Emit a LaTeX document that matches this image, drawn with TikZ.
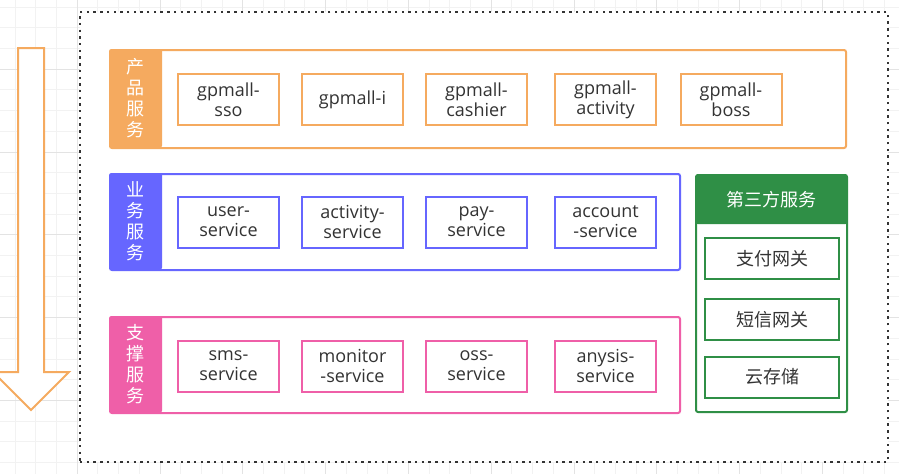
\documentclass[tikz,border=0pt]{standalone}
\usepackage{fontspec}
\setmainfont{Open Sans}
\newfontfamily\cjk{Noto Sans CJK SC}
\usepackage{xcolor}
\usepackage{tikz}
\usetikzlibrary{positioning}

\definecolor{prodcol}{HTML}{F5AA5F}
\definecolor{bizcol}{HTML}{6666FF}
\definecolor{suppcol}{HTML}{EF5FA8}
\definecolor{thirdcol}{HTML}{2F8F46}
\definecolor{txtcol}{HTML}{333333}

\begin{document}
\begin{tikzpicture}[
    x=1pt, y=-1pt,
    gridminor/.style = {draw=gray!10, line width=0.8pt},
    gridmajor/.style = {draw=gray!22, line width=0.8pt},
    layer/.style  = {rectangle, draw, line width=2pt,
                     rounded corners=2pt, inner sep=0pt},
    tag/.style    = {rectangle, rounded corners=2pt,
                     text=white, align=center, inner sep=0pt,
                     minimum width=53pt,
                     font=\cjk\fontsize{18}{21}\selectfont},
    svc/.style    = {rectangle, draw, line width=2pt, fill=white,
                     minimum width=101pt, minimum height=51pt,
                     align=center, inner sep=0pt, text=txtcol,
                     font=\fontsize{18}{20}\selectfont},
    gate/.style   = {rectangle, draw=thirdcol, line width=2pt,
                     fill=white, minimum width=134pt,
                     minimum height=41pt, inner sep=0pt,
                     text=txtcol, font=\cjk\fontsize{18}{20}\selectfont}
]
\clip (0,0) rectangle (899,474);

%% Background grid
\fill[white] (0,0) rectangle (899,474);
\foreach \i in {-1,...,43}
    \draw[gridminor] ({15+20.7*\i},0) -- ({15+20.7*\i},474);
\foreach \i in {-1,...,23}
    \draw[gridminor] (0,{7+20.7*\i}) -- (899,{7+20.7*\i});
\foreach \i in {-1,...,11}
    \draw[gridmajor] ({77.1+82.8*\i},0) -- ({77.1+82.8*\i},474);
\foreach \i in {-1,...,6}
    \draw[gridmajor] (0,{69.1+82.8*\i}) -- (899,{69.1+82.8*\i});

%% Frame
\node[draw=txtcol, fill=white, line width=2.4pt,
      dash pattern=on 2.4pt off 4.3pt,
      minimum width=808pt, minimum height=450pt,
      inner sep=0pt] (frame) at (484,237) {};

%% Flow arrow
\draw[prodcol, line width=2pt, fill=white, line join=miter]
    (18,48) -- (44,48) -- (44,372) -- (69,372) -- (31,410)
    -- (-7,372) -- (18,372) -- cycle;

%% Product layer
\node[layer, draw=prodcol, minimum width=736pt,
      minimum height=98pt] (prod) at (478,99) {};
\node[tag, fill=prodcol, minimum height=98pt,
      anchor=north west] (prodtag) at (prod.north west)
    {产\\品\\服\\务};
\node[svc, draw=prodcol] (sso)      at (228.5,99.5) {gpmall-\\sso};
\node[svc, draw=prodcol] (gi)       at (352.5,99.5) {gpmall-i};
\node[svc, draw=prodcol] (cashier)  at (476.5,99.5) {gpmall-\\cashier};
\node[svc, draw=prodcol] (activity) at (605.5,99.5) {gpmall-\\activity};
\node[svc, draw=prodcol] (boss)     at (731,99.5)   {gpmall-\\boss};

%% Business layer
\node[layer, draw=bizcol, minimum width=570pt,
      minimum height=96pt] (biz) at (395,222) {};
\node[tag, fill=bizcol, minimum height=96pt,
      anchor=north west] (biztag) at (biz.north west)
    {业\\务\\服\\务};
\node[svc, draw=bizcol] (user)    at (228.5,222) {user-\\service};
\node[svc, draw=bizcol] (actsvc)  at (352.5,222) {activity-\\service};
\node[svc, draw=bizcol] (pay)     at (476.5,222) {pay-\\service};
\node[svc, draw=bizcol] (account) at (605.5,222) {account\\-service};

%% Support layer
\node[layer, draw=suppcol, minimum width=570pt,
      minimum height=96pt] (supp) at (395,365) {};
\node[tag, fill=suppcol, minimum height=96pt,
      anchor=north west] (supptag) at (supp.north west)
    {支\\撑\\服\\务};
\node[svc, draw=suppcol] (sms)     at (228.5,366) {sms-\\service};
\node[svc, draw=suppcol] (monitor) at (352.5,366) {monitor\\-service};
\node[svc, draw=suppcol] (oss)     at (476.5,366) {oss-\\service};
\node[svc, draw=suppcol] (anysis)  at (605.5,366) {anysis-\\service};

%% Third-party services
\node[layer, draw=thirdcol, minimum width=151pt,
      minimum height=237pt] (third) at (771.5,293.5) {};
\node[tag, fill=thirdcol, minimum width=151pt, minimum height=50pt,
      anchor=north, font=\cjk\fontsize{18}{20}\selectfont]
    (thirdtag) at (third.north) {第三方服务};
\node[gate] (paygw) at (772,258.5) {支付网关};
\node[gate] (smsgw) at (772,319.5) {短信网关};
\node[gate] (cloud) at (772,377)   {云存储};
\end{tikzpicture}
\end{document}
